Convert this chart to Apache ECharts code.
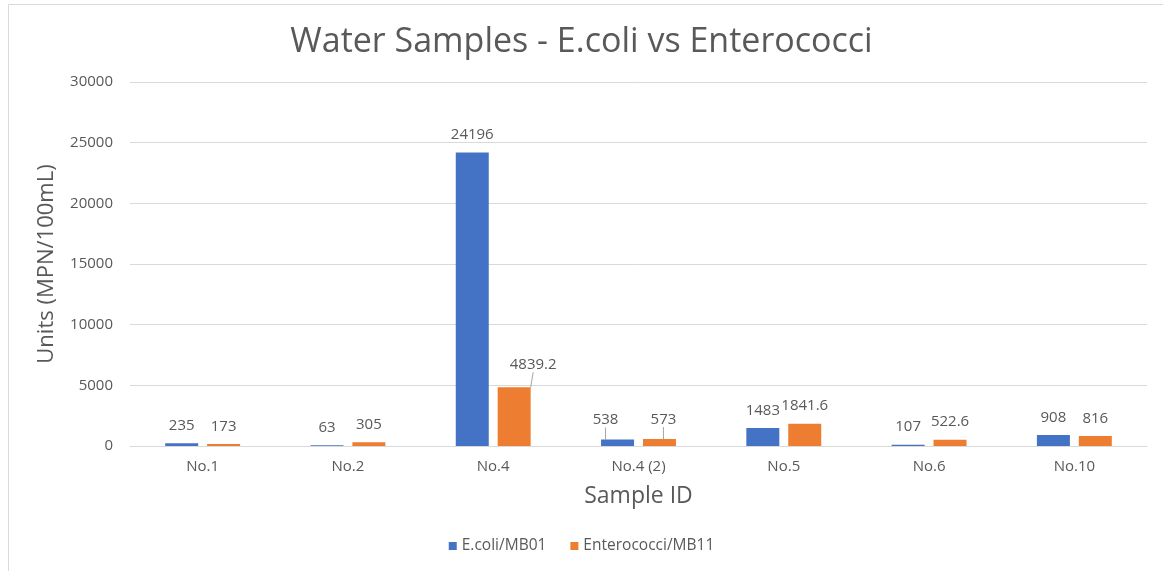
<!DOCTYPE html>
<html>
<head>
<meta charset="utf-8">
<script src="https://cdn.jsdelivr.net/npm/echarts@6/dist/echarts.min.js"></script>
<style>
  html, body { margin: 0; padding: 0; background: #fff; }
  #chart { width: 1163px; height: 571px; }
</style>
</head>
<body>
<div id="chart"></div>
<script>
const samples = ['No.1', 'No.2', 'No.4', 'No.4 (2)', 'No.5', 'No.6', 'No.10'];
const ecoli = [235, 63, 24196, 538, 1483, 107, 908];
const enterococci = [173, 305, 4839.2, 573, 1841.6, 522.6, 816];

const textColor = '#595959';
const font = 'Open Sans';

// labels that were dragged off their bars in the original, with a leader line
const moved = {
  '0-3': { dx: -12, dy: -2 },
  '1-2': { dx: 19, dy: -5 },
  '1-3': { dx: 4, dy: -2 }
};

const withLeaders = (values, seriesIndex) =>
  values.map((v, i) =>
    moved[seriesIndex + '-' + i]
      ? { value: v, labelLine: { show: true, lineStyle: { color: '#a6a6a6', width: 1 } } }
      : v
  );

const chart = echarts.init(document.getElementById('chart'));

const barLabel = {
  show: true,
  position: 'top',
  distance: 10,
  color: textColor,
  fontFamily: font,
  fontSize: 15
};

chart.setOption({
  backgroundColor: '#fff',
  animation: false,
  title: {
    text: 'Water Samples - E.coli vs Enterococci',
    left: 'center',
    top: 20,
    textStyle: { color: textColor, fontFamily: font, fontSize: 34, fontWeight: 'normal' }
  },
  legend: {
    bottom: 12,
    left: 'center',
    itemWidth: 8,
    itemHeight: 8,
    itemGap: 24,
    icon: 'rect',
    textStyle: { color: textColor, fontFamily: font, fontSize: 15.5 }
  },
  grid: { left: 130, right: 16, top: 82, bottom: 125 },
  xAxis: {
    type: 'category',
    data: samples,
    name: 'Sample ID',
    nameLocation: 'middle',
    nameGap: 39,
    nameTextStyle: { color: textColor, fontFamily: font, fontSize: 23 },
    axisLine: { lineStyle: { color: '#d9d9d9' } },
    axisTick: { show: false },
    axisLabel: { color: textColor, fontFamily: font, fontSize: 15, margin: 13 }
  },
  yAxis: {
    type: 'value',
    min: 0,
    max: 30000,
    interval: 5000,
    name: 'Units (MPN/100mL)',
    nameLocation: 'middle',
    nameGap: 72,
    nameTextStyle: { color: textColor, fontFamily: font, fontSize: 22 },
    axisLine: { show: false },
    axisTick: { show: false },
    axisLabel: { color: textColor, fontFamily: font, fontSize: 15, margin: 17, formatter: v => String(v) },
    splitLine: { lineStyle: { color: '#d9d9d9' } }
  },
  labelLayout: params => moved[params.seriesIndex + '-' + params.dataIndex] || {},
  series: [
    {
      name: 'E.coli/MB01',
      type: 'bar',
      data: withLeaders(ecoli, 0),
      barWidth: 33,
      barGap: '27%',
      itemStyle: { color: '#4472c4' },
      label: barLabel
    },
    {
      name: 'Enterococci/MB11',
      type: 'bar',
      data: withLeaders(enterococci, 1),
      barWidth: 33,
      itemStyle: { color: '#ed7d31' },
      label: barLabel
    }
  ],
  graphic: [
    {
      type: 'rect',
      shape: { x: 8.5, y: 4.5, width: 1160, height: 570 },
      style: { fill: 'none', stroke: '#d9d9d9', lineWidth: 1 },
      silent: true
    }
  ]
});
</script>
</body>
</html>
